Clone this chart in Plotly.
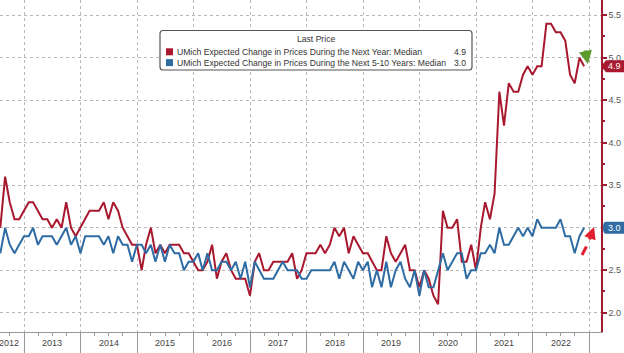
import plotly.graph_objects as go
import pandas as pd

# ---- data (month-end observations, Jul 2012 .. Nov 2022) ----
start_month = "2012-07-31"
n_months = 125
dates = pd.date_range(start_month, periods=n_months, freq=pd.offsets.MonthEnd())

one_year = [
    3.0, 3.6, 3.3, 3.1, 3.1, 3.2,                                  # 2012 Jul-Dec
    3.3, 3.3, 3.2, 3.1, 3.1, 3.0, 3.1, 3.0, 3.3, 3.0, 2.9, 3.0,    # 2013
    3.1, 3.2, 3.2, 3.2, 3.3, 3.1, 3.3, 3.2, 3.0, 2.9, 2.8, 2.8,    # 2014
    2.5, 2.8, 3.0, 2.7, 2.8, 2.7, 2.8, 2.8, 2.8, 2.7, 2.7, 2.6,    # 2015
    2.5, 2.5, 2.6, 2.8, 2.4, 2.6, 2.7, 2.5, 2.4, 2.4, 2.4, 2.2,    # 2016
    2.6, 2.7, 2.5, 2.5, 2.6, 2.6, 2.6, 2.6, 2.7, 2.4, 2.5, 2.7,    # 2017
    2.7, 2.7, 2.8, 2.7, 2.8, 3.0, 2.9, 3.0, 2.7, 2.9, 2.8, 2.7,    # 2018
    2.7, 2.6, 2.5, 2.5, 2.9, 2.7, 2.6, 2.7, 2.8, 2.5, 2.5, 2.3,    # 2019
    2.5, 2.4, 2.2, 2.1, 3.2, 3.0, 3.0, 3.1, 2.6, 2.6, 2.8, 2.5,    # 2020
    3.0, 3.3, 3.1, 3.4, 4.6, 4.2, 4.7, 4.6, 4.6, 4.8, 4.9, 4.8,    # 2021
    4.9, 4.9, 5.4, 5.4, 5.3, 5.3, 5.2, 4.8, 4.7, 5.0, 4.9,         # 2022 Jan-Nov
]
five_ten_year = [
    2.7, 3.0, 2.8, 2.7, 2.8, 2.9,                                  # 2012 Jul-Dec
    2.9, 3.0, 2.8, 2.9, 2.9, 2.9, 2.8, 2.9, 3.0, 2.8, 2.9, 2.7,    # 2013
    2.9, 2.9, 2.9, 2.9, 2.8, 2.9, 2.7, 2.9, 2.8, 2.8, 2.6, 2.8,    # 2014
    2.8, 2.7, 2.8, 2.6, 2.8, 2.6, 2.8, 2.7, 2.7, 2.5, 2.6, 2.6,    # 2015
    2.7, 2.5, 2.7, 2.5, 2.5, 2.6, 2.6, 2.5, 2.6, 2.4, 2.6, 2.3,    # 2016
    2.6, 2.5, 2.4, 2.4, 2.4, 2.5, 2.6, 2.5, 2.5, 2.5, 2.4, 2.4,    # 2017
    2.5, 2.5, 2.5, 2.5, 2.5, 2.6, 2.4, 2.6, 2.5, 2.4, 2.6, 2.5,    # 2018
    2.6, 2.3, 2.5, 2.3, 2.6, 2.3, 2.5, 2.6, 2.4, 2.3, 2.5, 2.2,    # 2019
    2.5, 2.3, 2.3, 2.5, 2.7, 2.5, 2.6, 2.7, 2.7, 2.4, 2.5, 2.5,    # 2020
    2.7, 2.7, 2.8, 2.7, 3.0, 2.8, 2.8, 2.9, 3.0, 2.9, 3.0, 2.9,    # 2021
    3.1, 3.0, 3.0, 3.0, 3.0, 3.1, 2.9, 2.9, 2.7, 2.9, 3.0,         # 2022 Jan-Nov
]
series_names = [
    "UMich Expected Change in Prices During the Next Year: Median",
    "UMich Expected Change in Prices During the Next 5-10 Years: Median",
]
last_values = ["4.9", "3.0"]
years = list(range(2012, 2023))
y_ticks = [2.0, 2.5, 3.0, 3.5, 4.0, 4.5, 5.0, 5.5]
y_ticktext = ["2.0", "2.5", "", "3.5", "4.0", "4.5", "5.0", "5.5"]  # 3.0 sits under its tag

RED = "#a8182f"
BLUE = "#2f6ca3"
AXIS_RED = "#a01c30"
GRID = "#b8b8b8"
TXT = "#444444"
FONT = "Liberation Sans"

W, H = 624, 353
PW, PH = 601, 332  # plot area size in px


def px(x, y):
    return x / PW, 1 - y / PH


def P(x, y):
    a, b = px(x, y)
    return f"{a:.5f},{b:.5f}"


fig = go.Figure()
fig.add_trace(go.Scatter(x=dates, y=one_year, mode="lines", name=series_names[0],
                         line=dict(color=RED, width=2)))
fig.add_trace(go.Scatter(x=dates, y=five_ten_year, mode="lines", name=series_names[1],
                         line=dict(color=BLUE, width=2)))

year_starts = [f"{y}-01-01" for y in range(2013, 2024)]
quarters = [f"{y}-{m:02d}-01" for y in range(2012, 2024) for m in (4, 7, 10)]
minor_y = [2.0 + 0.25 * i for i in range(16)]

fig.update_layout(
    width=W, height=H,
    margin=dict(l=0, r=W - PW, t=0, b=H - PH),
    paper_bgcolor="white", plot_bgcolor="white",
    showlegend=False,
    font=dict(family=FONT, size=9, color=TXT),
    xaxis=dict(
        type="date", range=["2012-07-29", "2023-03-19"],
        tickmode="array", tickvals=year_starts, showticklabels=False,
        ticks="outside", ticklen=22, tickcolor="#999999", tickwidth=1,
        showgrid=True, gridcolor=GRID, griddash="dot", gridwidth=1,
        showline=True, linecolor="#999999", linewidth=1, zeroline=False,
        minor=dict(tickmode="array", tickvals=quarters, ticks="outside",
                   ticklen=3, tickcolor="#999999", showgrid=False),
    ),
    yaxis=dict(
        side="right", range=[3 - (PH - 227.7) / 85, 3 + 227.7 / 85],
        tickmode="array", tickvals=y_ticks, ticktext=y_ticktext,
        ticks="outside", ticklen=4, tickcolor=AXIS_RED, tickwidth=1.5,
        showgrid=True, gridcolor=GRID, griddash="dot", gridwidth=1,
        showline=True, linecolor=AXIS_RED, linewidth=1.5, zeroline=False,
        tickfont=dict(family=FONT, size=9, color="#555555"),
        minor=dict(tickmode="array", tickvals=minor_y, ticks="outside",
                   ticklen=2, tickcolor=AXIS_RED, showgrid=False),
    ),
)

annotations = []
shapes = []

# year labels centred in each year period
for y in years:
    xpos = f"{y}-07-01" if y > 2012 else "2012-09-25"
    annotations.append(dict(x=xpos, y=-10.5 / PH, xref="x", yref="paper",
                            text=str(y), showarrow=False, xanchor="center",
                            yanchor="middle", font=dict(family=FONT, size=9, color=TXT)))

# legend box
x0, y0, x1, y1, r = 160, 30.5, 472, 70, 3
path = (f"M {P(x0 + r, y0)} L {P(x1 - r, y0)} Q {P(x1, y0)} {P(x1, y0 + r)} "
        f"L {P(x1, y1 - r)} Q {P(x1, y1)} {P(x1 - r, y1)} L {P(x0 + r, y1)} "
        f"Q {P(x0, y1)} {P(x0, y1 - r)} L {P(x0, y0 + r)} Q {P(x0, y0)} {P(x0 + r, y0)} Z")
shapes.append(dict(type="path", xref="paper", yref="paper", path=path,
                   line=dict(color="#555555", width=1.2), fillcolor="white", layer="above"))

LEG_FS = 8.6
ax_, ay_ = px(316, 38.5)
annotations.append(dict(x=ax_, y=ay_, xref="paper", yref="paper", text="Last Price",
                        showarrow=False, xanchor="center", yanchor="middle",
                        font=dict(family=FONT, size=LEG_FS, color="#333333")))
for i, (name, val, col) in enumerate(zip(series_names, last_values, [RED, BLUE])):
    cy = 51.8 + i * 10.8
    sx0, sy0 = px(166, cy - 3.5)
    sx1, sy1 = px(173, cy + 3.5)
    shapes.append(dict(type="rect", xref="paper", yref="paper", x0=sx0, x1=sx1,
                       y0=sy1, y1=sy0, fillcolor=col, line=dict(width=0), layer="above"))
    tx, ty = px(174.5, cy)
    annotations.append(dict(x=tx, y=ty, xref="paper", yref="paper", text=name,
                            showarrow=False, xanchor="left", yanchor="middle",
                            font=dict(family=FONT, size=LEG_FS, color="#333333")))
    vx, vy = px(468, cy)
    annotations.append(dict(x=vx, y=vy, xref="paper", yref="paper", text=val,
                            showarrow=False, xanchor="right", yanchor="middle",
                            font=dict(family=FONT, size=LEG_FS, color="#333333")))

# last value tags on the right axis
for val, col, pointed in [(one_year[-1], RED, True), (five_ten_year[-1], BLUE, False)]:
    cy = 227.7 - (val - 3) * 85
    h = 6
    if pointed:
        pth = (f"M {P(601, cy)} L {P(606, cy - h)} L {P(624, cy - h)} "
               f"L {P(624, cy + h)} L {P(606, cy + h)} Z")
    else:
        pth = (f"M {P(606, cy - h)} L {P(624, cy - h)} L {P(624, cy + h)} "
               f"L {P(606, cy + h)} Q {P(603, cy + h)} {P(603, cy)} Q {P(603, cy - h)} {P(606, cy - h)} Z")
    shapes.append(dict(type="path", xref="paper", yref="paper", path=pth,
                       fillcolor=col, line=dict(width=0), layer="above"))
    tx, ty = px(614, cy)
    annotations.append(dict(x=tx, y=ty, xref="paper", yref="paper", text=f"{val:.1f}",
                            showarrow=False, xanchor="center", yanchor="middle",
                            font=dict(family=FONT, size=9, color="white")))

# green arrow (down) near the 1-year series end
gx, gy = px(588, 64)
annotations.append(dict(x=gx, y=gy, xref="paper", yref="paper", text="", showarrow=True,
                        ax=-3, ay=-15, arrowhead=2, arrowsize=0.75, arrowwidth=3.5,
                        arrowcolor="#5c9c2c"))
# red dashed arrow (up) near the 5-10y series end
d0x, d0y = px(582, 255)
d1x, d1y = px(586.5, 246.5)
shapes.append(dict(type="line", xref="paper", yref="paper", x0=d0x, y0=d0y, x1=d1x, y1=d1y,
                   line=dict(color="#e0202e", width=3), layer="above"))
rx, ry = px(594, 227)
annotations.append(dict(x=rx, y=ry, xref="paper", yref="paper", text="", showarrow=True,
                        ax=-5, ay=14, arrowhead=2, arrowsize=0.8, arrowwidth=3,
                        arrowcolor="#e0202e"))

fig.update_layout(annotations=annotations, shapes=shapes)
fig.write_html("out.html")
